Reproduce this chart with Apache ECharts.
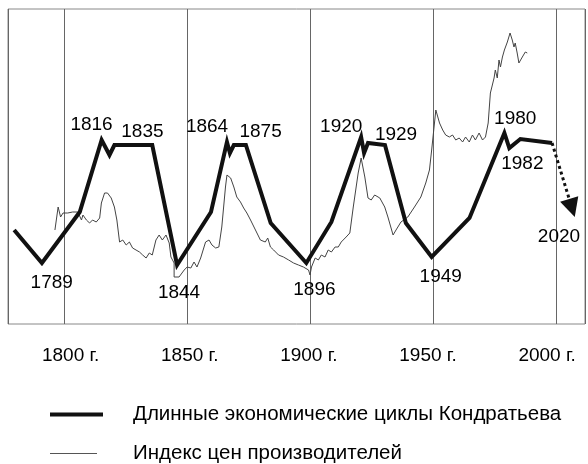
<!DOCTYPE html>
<html>
<head>
<meta charset="utf-8">
<script src="https://cdn.jsdelivr.net/npm/echarts@6/dist/echarts.min.js"></script>
<style>
  html, body { margin: 0; background: #fff; }
  #chart { width: 588px; height: 464px; }
</style>
</head>
<body>
<div id="chart"></div>
<script>
// long waves (thick line)
const cycleYears = [1779.6, 1790.9, 1806.3, 1815.2, 1818.4, 1820.4, 1835.8, 1845.9, 1859.7, 1866.2,
  1867.4, 1869.0, 1873.9, 1884.0, 1898.5, 1908.7, 1920.8, 1922.0, 1923.6, 1930.5,
  1939.0, 1949.5, 1964.9, 1979.1, 1981.1, 1985.6, 1998.5]
const cycleValues = [94, 61, 112, 184, 169, 179, 179, 59, 112, 182,
  171, 179, 179, 101, 61, 102, 187, 171, 181, 179,
  101, 67, 106, 191, 176, 185, 181]

// forecast arrow
const forecastYears = [1998.5, 2006.6]
const forecastValues = [181, 116]

// producer price index (thin line)
const priceYears = [1796.2, 1797.5, 1798.5, 1799.5, 1801.4, 1803.4, 1805.5, 1807.0, 1807.6, 1809.0,
  1810.3, 1811.5, 1813.0, 1814.4, 1815.1, 1816.4, 1817.6, 1819.1, 1820.4, 1821.4,
  1822.5, 1823.8, 1825.2, 1826.5, 1827.8, 1829.2, 1830.6, 1831.9, 1833.3, 1834.6,
  1835.8, 1837.3, 1838.6, 1839.9, 1841.4, 1842.7, 1843.4, 1844.7, 1844.7, 1846.7,
  1848.8, 1850.0, 1851.5, 1852.8, 1854.0, 1855.5, 1857.5, 1858.9, 1860.1, 1861.6,
  1862.9, 1864.1, 1865.6, 1866.2, 1867.7, 1869.0, 1870.2, 1871.7, 1873.0, 1874.3,
  1875.8, 1877.8, 1879.8, 1881.8, 1882.8, 1883.9, 1885.2, 1887.2, 1889.2, 1891.3,
  1893.3, 1895.3, 1897.3, 1899.4, 1900.0, 1900.6, 1902.1, 1903.4, 1904.6, 1906.1,
  1907.4, 1908.7, 1910.2, 1911.5, 1912.7, 1914.7, 1916.2, 1917.6, 1919.6, 1920.8,
  1922.3, 1923.6, 1924.9, 1926.3, 1928.4, 1930.4, 1931.7, 1933.8, 1935.0, 1937.0,
  1939.8, 1942.5, 1945.1, 1947.1, 1948.6, 1949.5, 1951.2, 1952.7, 1954.0, 1955.2,
  1956.7, 1958.0, 1959.3, 1960.7, 1962.1, 1963.3, 1964.8, 1966.1, 1967.3, 1968.8,
  1970.2, 1971.4, 1972.5, 1973.4, 1974.9, 1975.4, 1976.2, 1976.9, 1977.5, 1978.3,
  1979.1, 1980.3, 1981.4, 1982.3, 1983.0, 1983.5, 1984.3, 1985.0, 1985.6, 1986.4,
  1987.1, 1987.6, 1988.4]
const priceValues = [94, 117, 107, 111, 111, 112, 112, 104, 109, 104,
  101, 104, 102, 106, 121, 131, 131, 126, 117, 104,
  82, 84, 79, 82, 76, 74, 72, 69, 66, 71,
  69, 84, 89, 84, 89, 81, 67, 61, 47, 47,
  54, 57, 56, 62, 57, 66, 82, 84, 79, 76,
  77, 97, 137, 149, 146, 137, 127, 122, 116, 111,
  104, 94, 84, 82, 86, 77, 74, 69, 67, 64,
  61, 59, 57, 54, 49, 57, 66, 64, 69, 67,
  74, 72, 77, 77, 82, 87, 91, 117, 151, 166,
  147, 126, 124, 129, 126, 117, 107, 89, 94, 102,
  107, 117, 127, 141, 154, 174, 214, 201, 194, 189,
  187, 189, 184, 186, 182, 187, 182, 189, 184, 191,
  184, 187, 201, 231, 246, 254, 246, 264, 257, 267,
  274, 282, 291, 284, 277, 281, 271, 261, 259, 267,
  269, 272, 271]

// year annotations
const markTexts = ['1789', '1816', '1835', '1844', '1864', '1875', '1896', '1920', '1929', '1949', '1980', '1982', '2020']
const markYears = [1794.9, 1811.1, 1831.8, 1846.7, 1858.1, 1879.9, 1901.8, 1912.7, 1935.0, 1953.2, 1983.5, 1986.4, 2001.3]
const markValues = [41, 199, 192, 31, 197, 192, 34, 197, 189, 47, 205, 160, 87]

const tickYears = [1800, 1850, 1900, 1950, 2000]

const cycleName = 'Длинные экономические циклы Кондратьева'
const priceName = 'Индекс цен производителей'
const font = '"Liberation Sans", Arial, sans-serif'

const chart = echarts.init(document.getElementById('chart'))

const option = {
  animation: false,
  backgroundColor: '#fff',
  textStyle: { fontFamily: font },
  grid: { left: 8, right: 0, top: 9, bottom: 140, show: true, borderColor: '#888', borderWidth: 1 },
  legend: [
    {
      data: [cycleName],
      icon: 'rect',
      left: 50,
      top: 404,
      padding: 0,
      itemWidth: 53,
      itemHeight: 4,
      textStyle: { fontSize: 20.5, color: '#000', padding: [0, 0, 0, 25] }
    },
    {
      data: [priceName],
      icon: 'rect',
      left: 50,
      top: 443,
      padding: 0,
      itemWidth: 47,
      itemHeight: 1,
      textStyle: { fontSize: 20.5, color: '#000', padding: [0, 0, 0, 31] }
    }
  ],
  xAxis: [
    {
      type: 'value',
      position: 'top',
      min: 1777.1,
      max: 2011.9,
      axisLine: { show: false },
      axisTick: { show: false },
      axisLabel: { show: false },
      splitLine: { show: true, lineStyle: { color: '#666', width: 1 } }
    },
    {
      type: 'value',
      position: 'bottom',
      min: 1773.7,
      max: 2015.9,
      axisLine: { show: false },
      axisTick: { show: false },
      splitLine: { show: false },
      axisLabel: {
        margin: 22,
        fontSize: 19,
        color: '#000',
        formatter: (v) => (tickYears.includes(v) ? v + ' г.' : '')
      }
    }
  ],
  yAxis: { type: 'value', min: 0, max: 315, show: false },
  series: [
    {
      name: priceName,
      type: 'line',
      xAxisIndex: 0,
      symbol: 'none',
      z: 2,
      lineStyle: { color: '#444', width: 1 },
      itemStyle: { color: '#555' },
      data: priceYears.map((x, i) => [x, priceValues[i]])
    },
    {
      name: cycleName,
      type: 'line',
      xAxisIndex: 0,
      symbol: 'none',
      z: 3,
      lineStyle: { color: '#111', width: 4, join: 'miter' },
      itemStyle: { color: '#111' },
      data: cycleYears.map((x, i) => [x, cycleValues[i]])
    },
    {
      type: 'lines',
      coordinateSystem: 'cartesian2d',
      xAxisIndex: 0,
      z: 3,
      symbol: ['none', 'triangle'],
      symbolSize: 19,
      lineStyle: { color: '#111', width: 3, type: 'dotted', opacity: 1 },
      data: [{ coords: forecastYears.map((x, i) => [x, forecastValues[i]]) }]
    },
    {
      type: 'scatter',
      xAxisIndex: 0,
      silent: true,
      symbolSize: 0,
      z: 4,
      label: {
        show: true,
        position: 'inside',
        fontSize: 19,
        color: '#000',
        opacity: 1,
        textBorderWidth: 0,
        formatter: (p) => p.value[2]
      },
      data: markYears.map((x, i) => [x, markValues[i], markTexts[i]])
    }
  ]
}

chart.setOption(option)
window.addEventListener('resize', () => chart.resize())
</script>
</body>
</html>
